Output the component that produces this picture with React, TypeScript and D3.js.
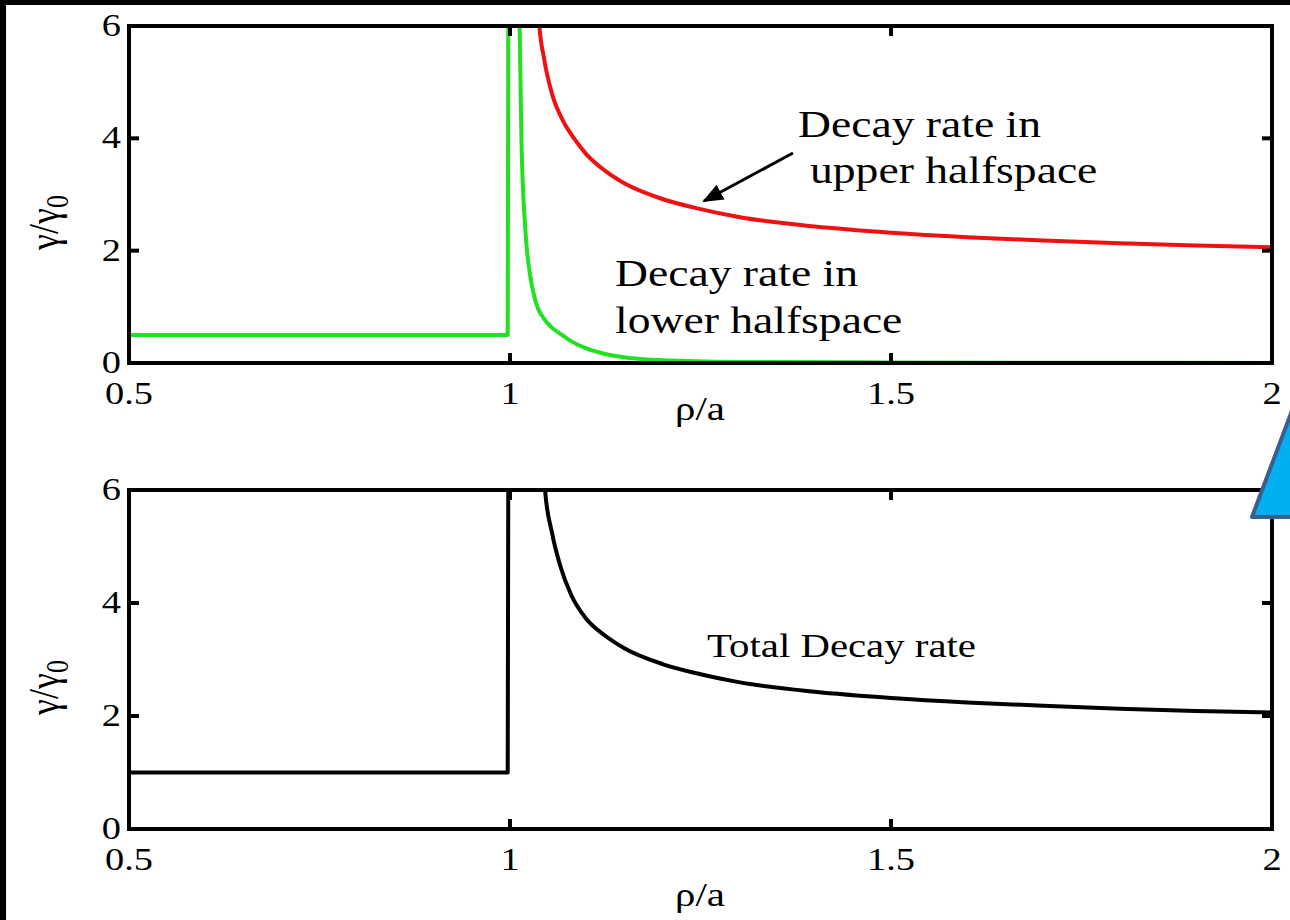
import React from "react";
import * as d3 from "d3";

// ---- data ----
const xTicks = [0.5, 1, 1.5, 2];
const xTickLabels = ["0.5", "1", "1.5", "2"];
const yTicks = [0, 2, 4, 6];
const yTickLabels = ["0", "2", "4", "6"];

// lower halfspace decay rate (green): flat part + jump, then decay
const greenStepRho = [0.5, 0.997, 0.998, 1.011, 1.012];
const greenStepVal = [0.5, 0.5, 8, 8, 6.5];
const greenDecayRho = [1.012, 1.015, 1.02, 1.026, 1.033, 1.045, 1.055, 1.066, 1.08, 1.1, 1.125, 1.157, 1.2, 1.3, 1.5, 1.75, 2.0];
const greenDecayVal = [6.5, 4.0, 2.4, 1.6, 1.12, 0.78, 0.63, 0.52, 0.39, 0.26, 0.16, 0.09, 0.05, 0.02, 0.01, 0.005, 0.0];

// upper halfspace decay rate (red)
const redRho = [1.035, 1.038, 1.045, 1.055, 1.07, 1.085, 1.1, 1.125, 1.15, 1.2, 1.25, 1.3, 1.4, 1.5, 1.6, 1.7, 1.8, 1.9, 2.0];
const redVal = [7.0, 6.1, 5.4, 4.8, 4.3, 3.98, 3.72, 3.42, 3.2, 2.92, 2.74, 2.6, 2.43, 2.32, 2.24, 2.18, 2.13, 2.09, 2.06];

// total decay rate (black): flat part + jump, then decay
const totalStepRho = [0.5, 0.997, 0.998];
const totalStepVal = [1.0, 1.0, 8];
const totalDecayRho = [1.043, 1.046, 1.055, 1.065, 1.08, 1.1, 1.125, 1.15, 1.2, 1.25, 1.3, 1.4, 1.5, 1.6, 1.7, 1.8, 1.9, 2.0];
const totalDecayVal = [6.8, 6.0, 5.25, 4.7, 4.15, 3.72, 3.42, 3.2, 2.92, 2.74, 2.6, 2.43, 2.32, 2.24, 2.18, 2.13, 2.09, 2.06];

const FONT = "'Liberation Serif', 'Times New Roman', serif";
const SX = 1.2;

const xScale = d3.scaleLinear().domain([0.5, 2]).range([129, 1272]);

function T({ x, y, size, anchor = "start", children }: any) {
  return (
    <text
      transform={`translate(${x},${y}) scale(${SX},1)`}
      fontSize={size}
      fontFamily={FONT}
      textAnchor={anchor}
      fill="#000"
    >
      {children}
    </text>
  );
}

function Panel({ top, bottom, series, id, xlabelY }: any) {
  const y = d3.scaleLinear().domain([0, 6]).range([bottom, top]);
  const x = xScale;
  const [x0, x1] = x.range();
  return (
    <g>
      <defs>
        <clipPath id={id}>
          <rect x={x0} y={top} width={x1 - x0} height={bottom - top} />
        </clipPath>
      </defs>
      <g clipPath={`url(#${id})`}>
        {series.map((s: any, i: number) => {
          const line = d3
            .line<[number, number]>()
            .x((d) => x(d[0]))
            .y((d) => y(d[1]))
            .curve(s.smooth ? d3.curveMonotoneX : d3.curveLinear);
          return (
            <path
              key={i}
              d={line(s.rho.map((r: number, k: number) => [r, s.val[k]]) as any) || ""}
              fill="none"
              stroke={s.color}
              strokeWidth={4}
              strokeLinejoin="round"
            />
          );
        })}
      </g>
      {xTicks.map((t, i) => (
        <g key={"xt" + i}>
          <line x1={x(t)} x2={x(t)} y1={bottom} y2={bottom - 10} stroke="#000" strokeWidth={4} />
          <line x1={x(t)} x2={x(t)} y1={top} y2={top + 10} stroke="#000" strokeWidth={4} />
          <T x={x(t)} y={bottom + 41} size={32} anchor="middle">
            {xTickLabels[i]}
          </T>
        </g>
      ))}
      {yTicks.map((t, i) => (
        <g key={"yt" + i}>
          <line x1={x0} x2={x0 + 10} y1={y(t)} y2={y(t)} stroke="#000" strokeWidth={4} />
          <line x1={x1} x2={x1 - 10} y1={y(t)} y2={y(t)} stroke="#000" strokeWidth={4} />
          <T x={121} y={y(t) + 10} size={32} anchor="end">
            {yTickLabels[i]}
          </T>
        </g>
      ))}
      <rect x={x0} y={top} width={x1 - x0} height={bottom - top} fill="none" stroke="#000" strokeWidth={4} />
      <T x={700} y={xlabelY} size={34} anchor="middle">
        ρ/a
      </T>
      <text
        transform={`translate(58,${(top + bottom) / 2 + 28}) scale(${SX},1) rotate(-90)`}
        fontSize={36}
        fontFamily={FONT}
        textAnchor="middle"
      >
        γ/γ<tspan fontSize={26} dy={8}>0</tspan>
      </text>
    </g>
  );
}

export default function App() {
  return (
    <svg
      width={1290}
      height={920}
      style={{ position: "absolute", left: 0, top: 0, background: "#fff" }}
    >
      <rect x={0} y={0} width={1290} height={920} fill="#fff" />
      <Panel
        id="clipTop"
        top={26}
        bottom={363}
        xlabelY={420}
        series={[
          { rho: redRho, val: redVal, color: "#ee1111", smooth: true },
          { rho: greenStepRho, val: greenStepVal, color: "#22e022", smooth: false },
          { rho: greenDecayRho, val: greenDecayVal, color: "#22e022", smooth: true },
        ]}
      />
      <Panel
        id="clipBot"
        top={490}
        bottom={829}
        xlabelY={906}
        series={[
          { rho: totalStepRho, val: totalStepVal, color: "#000", smooth: false },
          { rho: totalDecayRho, val: totalDecayVal, color: "#000", smooth: true },
        ]}
      />
      <T x={798} y={137} size={38}>Decay rate in</T>
      <T x={810} y={183} size={38}>upper halfspace</T>
      <T x={615} y={286} size={38}>Decay rate in</T>
      <T x={615} y={333} size={38}>lower halfspace</T>
      <T x={707} y={657} size={34}>Total Decay rate</T>
      <defs>
        <marker id="arr" viewBox="0 0 10 10" refX={9} refY={5} markerWidth={7} markerHeight={7} orient="auto">
          <path d="M0,1 L10,5 L0,9 z" fill="#000" />
        </marker>
      </defs>
      <line x1={793} y1={153} x2={704} y2={201} stroke="#000" strokeWidth={3} markerEnd="url(#arr)" />
      <polygon points="1252,517 1302,384 1310,517" fill="#00b0f0" stroke="#3b5f8c" strokeWidth={4} strokeLinejoin="round" />
      <rect x={0} y={0} width={1290} height={5} fill="#000" />
      <rect x={0} y={0} width={6} height={920} fill="#000" />
    </svg>
  );
}
